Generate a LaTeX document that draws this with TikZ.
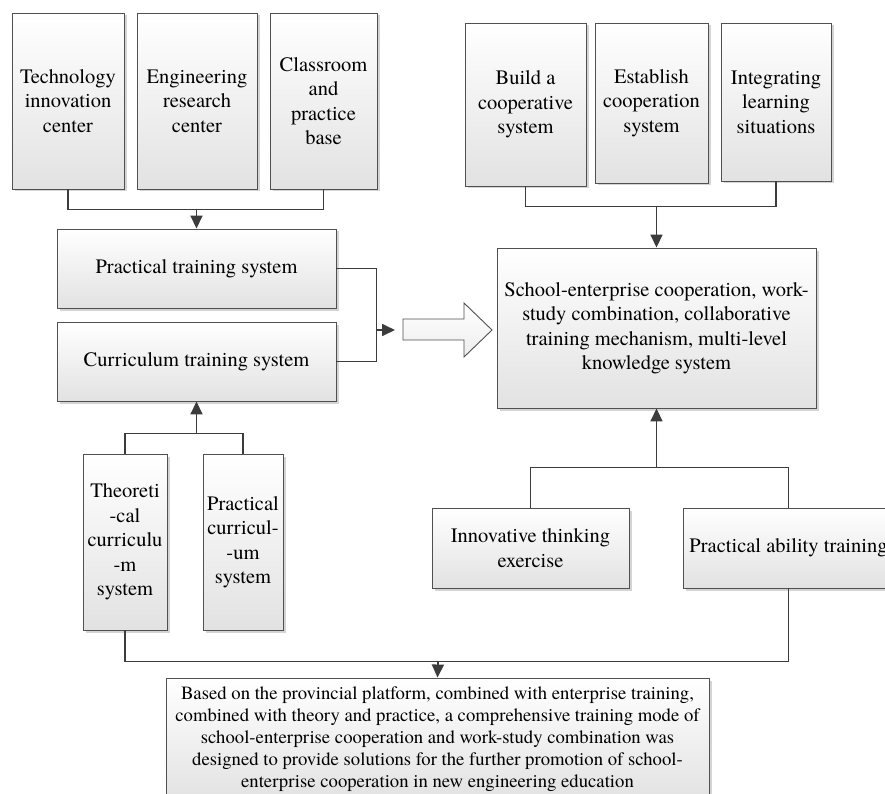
\documentclass[tikz,border=0pt]{standalone}
\usepackage{fontspec}
\setmainfont{texgyretermes-regular.otf}
\usetikzlibrary{arrows.meta,shadows}
\definecolor{boxline}{RGB}{80,80,80}
\definecolor{conline}{RGB}{60,60,60}
\definecolor{boxbot}{RGB}{226,226,226}
\definecolor{shadowgray}{RGB}{212,212,212}
\tikzset{
  box/.style={draw=boxline, line width=0.9pt, top color=white, bottom color=boxbot,
    inner sep=0pt, align=center, font=\fontsize{20.5}{24.5}\selectfont,
    drop shadow={shadow xshift=2.5pt, shadow yshift=-2.5pt, fill=shadowgray, opacity=1}},
  smallbox/.style={box, font=\fontsize{18.7}{22}\selectfont},
  conn/.style={draw=conline, line width=1.7pt},
  arr/.style={conn, -{Triangle[length=13pt,width=12pt]}},
  hollow/.style={draw=boxline, line width=0.9pt, top color=white, bottom color=boxbot!60}
}
\begin{document}
\begin{tikzpicture}[x=1pt,y=-1pt]
\useasboundingbox (0,0) rectangle (885,794);
% left top
\node[box, minimum width=112pt, minimum height=176pt] (tic) at (68,101) {Technology\\innovation\\center};
\node[box, minimum width=120pt, minimum height=176pt] (erc) at (197,101) {Engineering\\research\\center};
\node[box, minimum width=107pt, minimum height=176pt] (cpb) at (323.5,101) {Classroom\\and\\practice\\base};
\node[box, minimum width=279pt, minimum height=79pt] (pts) at (196.5,268.5) {Practical training system};
\node[box, minimum width=279pt, minimum height=79pt] (cts) at (196.5,361.5) {Curriculum training system};
\node[box, minimum width=84pt, minimum height=176pt] (tcs) at (125,542) {Theoreti\\-cal\\curriculu\\-m\\system};
\node[box, minimum width=80pt, minimum height=176pt] (pcs) at (243,542) {Practical\\curricul-\\-um\\system};
% right
\node[box, minimum width=121pt, minimum height=163pt] (bcs) at (525.5,104.5) {Build a\\cooperative\\system};
\node[box, minimum width=113pt, minimum height=160pt] (ecs) at (651.5,103) {Establish\\cooperation\\system};
\node[box, minimum width=110pt, minimum height=158pt] (ils) at (776,102) {Integrating\\learning\\situations};
\node[box, minimum width=319pt, minimum height=160pt] (sec) at (656.5,328) {School-enterprise cooperation, work-\\study combination, collaborative\\training mechanism, multi-level\\knowledge system};
\node[box, minimum width=197pt, minimum height=80pt] (ite) at (530.5,548) {Innovative thinking\\exercise};
\node[box, minimum width=211pt, minimum height=80pt] (pat) at (788.5,548) {Practical ability training};
% bottom
\node[smallbox, minimum width=543pt, minimum height=122pt] (bot) at (437.5,739) {Based on the provincial platform, combined with enterprise training,\\combined with theory and practice, a comprehensive training mode of\\school-enterprise cooperation and work-study combination was\\designed to provide solutions for the further promotion of school-\\enterprise cooperation in new engineering education};
% junctions
\coordinate (j1) at (196.5,209);
\coordinate (j2) at (376,330);
\coordinate (j2t) at (395,330);
\coordinate (j3) at (656.5,206);
\coordinate (j4) at (196.5,434);
\coordinate (j5) at (656.5,468);
\coordinate (j6) at (438,661);
% connectors
\draw[conn] (tic.south) -- ++(0,20) -| (cpb.south);
\draw[arr] (j1) -- (pts.north);
\draw[conn] (pts.east) -- ++(40,0) |- (cts.east);
\draw[arr] (j2) -- (j2t);
\draw[conn] (bcs.south) -- ++(0,20) -| (ils.south);
\draw[arr] (j3) -- (sec.north);
\draw[conn] (tcs.north) -- ++(0,-20) -| (pcs.north);
\draw[arr] (j4) -- (cts.south);
\draw[conn] (ite.north) -- ++(0,-40) -| (pat.north);
\draw[arr] (j5) -- (sec.south);
\draw[conn] (tcs.south) -- ++(0,31) -| (pat.south);
\draw[arr] (j6) -- (bot.north);
% hollow arrow
\draw[hollow] (403,319) -- (464,319) -- (464,303) -- (492,330) -- (464,357) -- (464,340) -- (403,340) -- cycle;
\end{tikzpicture}
\end{document}
